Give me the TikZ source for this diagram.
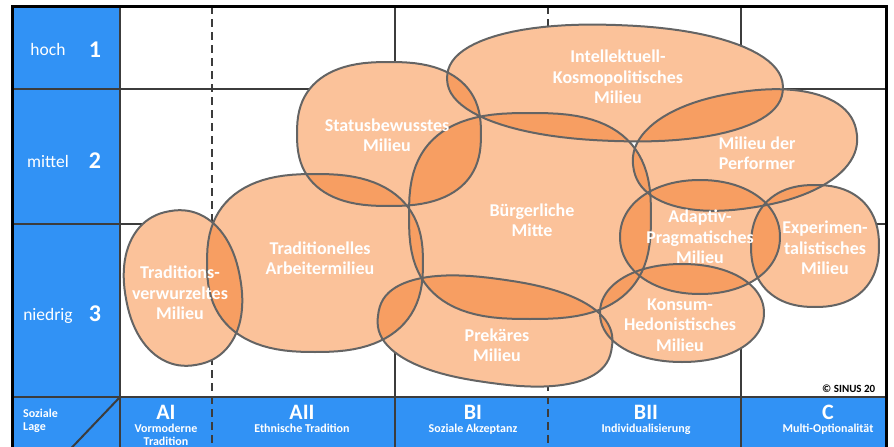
\documentclass[tikz,border=0pt]{standalone}
\usepackage{fontspec}
\setmainfont{Carlito}
\usepackage{tikz}

\definecolor{lageblue}{RGB}{49,146,245}
\definecolor{milieulight}{RGB}{251,194,154}
\definecolor{milieudark}{RGB}{247,158,98}
\definecolor{milieuline}{RGB}{100,100,100}
\definecolor{gridline}{RGB}{60,60,60}

% rounded blob: centre x, centre y, radius x, radius y, squareness, tilt
\newcommand{\milieu}[6]{plot[domain=2:362,samples=91,variable=\t]
  ({#1+#3*cos(\t)*abs(cos(\t))^(2/#5-1)*cos(#6)+#4*sin(\t)*abs(sin(\t))^(2/#5-1)*sin(#6)},
   {#2-#3*cos(\t)*abs(cos(\t))^(2/#5-1)*sin(#6)+#4*sin(\t)*abs(sin(\t))^(2/#5-1)*cos(#6)}) -- cycle}
\newcommand{\overlap}[2]{\begin{scope}\clip #1; \fill[milieudark] #2;\end{scope}}

\newcommand{\shpTV}{\milieu{183}{288}{58}{78}{2.2}{10}}
\newcommand{\shpAM}{\milieu{315}{263}{108}{89}{2.5}{0}}
\newcommand{\shpSB}{\milieu{389}{134}{92}{72}{2.5}{0}}
\newcommand{\shpIK}{\milieu{615}{83}{168}{58}{2.2}{-2}}
\newcommand{\shpBM}{\milieu{530}{216}{121}{103}{2.7}{0}}
\newcommand{\shpPF}{\milieu{745}{150}{113}{58}{2.2}{9}}
\newcommand{\shpAP}{\milieu{700}{237}{80}{57}{2.1}{0}}
\newcommand{\shpEX}{\milieu{815}{246}{64}{61}{2.3}{0}}
\newcommand{\shpKH}{\milieu{682}{313}{82}{49}{2.1}{0}}
\newcommand{\shpPR}{\milieu{495}{331}{118}{52}{2.4}{-8}}

\begin{document}
\begin{tikzpicture}[x=1pt,y=-1pt,
    milieutext/.style={text=white,font=\bfseries\fontsize{18}{20.5}\selectfont,align=center,inner sep=0pt},
    lagetext/.style={text=white,font=\fontsize{17.5}{20}\selectfont,anchor=base,inner sep=0pt},
    lagenum/.style={text=white,font=\bfseries\fontsize{24}{26}\selectfont,anchor=base,inner sep=0pt},
    gruppe/.style={text=white,font=\bfseries\fontsize{22}{24}\selectfont,anchor=base,inner sep=0pt},
    gruppesub/.style={text=white,font=\bfseries\fontsize{12}{13}\selectfont,align=center,anchor=north,inner sep=0pt},
    gitter/.style={draw=gridline,line width=2pt},
    gitterdash/.style={gitter,dash pattern=on 8pt off 5pt}]
             \useasboundingbox (0,0) rectangle (894,447);
             \clip (0,0) rectangle (894,447);

             % blue cells
             \fill[lageblue] (12,6) rectangle (120,397);
             \fill[lageblue] (12,397) rectangle (886,470);

             % grid
             \draw[gitter] (12,89) -- (886,89);
             \draw[gitter] (12,224) -- (886,224);
             \draw[gitter] (12,397) -- (886,397);
             \draw[gitter] (120,6) -- (120,470);
             \draw[gitter] (395,6) -- (395,470);
             \draw[gitter] (741,6) -- (741,470);
             \draw[gitterdash] (212,6) -- (212,470);
             \draw[gitterdash] (548,6) -- (548,470);
             \draw[gitter] (120,397) -- (60,460);

             % milieus
             \fill[milieulight] \shpTV;
             \fill[milieulight] \shpAM;
             \fill[milieulight] \shpSB;
             \fill[milieulight] \shpIK;
             \fill[milieulight] \shpBM;
             \fill[milieulight] \shpPF;
             \fill[milieulight] \shpAP;
             \fill[milieulight] \shpEX;
             \fill[milieulight] \shpKH;
             \fill[milieulight] \shpPR;

             \overlap{\shpTV}{\shpAM}
             \overlap{\shpAM}{\shpSB}
             \overlap{\shpAM}{\shpBM}
             \overlap{\shpAM}{\shpPR}
             \overlap{\shpSB}{\shpIK}
             \overlap{\shpSB}{\shpBM}
             \overlap{\shpIK}{\shpBM}
             \overlap{\shpIK}{\shpPF}
             \overlap{\shpBM}{\shpPF}
             \overlap{\shpBM}{\shpAP}
             \overlap{\shpBM}{\shpPR}
             \overlap{\shpBM}{\shpKH}
             \overlap{\shpPF}{\shpAP}
             \overlap{\shpPF}{\shpEX}
             \overlap{\shpAP}{\shpEX}
             \overlap{\shpAP}{\shpKH}
             \overlap{\shpKH}{\shpPR}
             \overlap{\shpKH}{\shpEX}

             \draw[milieuline,line width=2pt] \shpTV;
             \draw[milieuline,line width=2pt] \shpAM;
             \draw[milieuline,line width=2pt] \shpSB;
             \draw[milieuline,line width=2pt] \shpIK;
             \draw[milieuline,line width=2pt] \shpBM;
             \draw[milieuline,line width=2pt] \shpPF;
             \draw[milieuline,line width=2pt] \shpAP;
             \draw[milieuline,line width=2pt] \shpEX;
             \draw[milieuline,line width=2pt] \shpKH;
             \draw[milieuline,line width=2pt] \shpPR;

             % frame
             \draw[line width=3pt] (12,6) rectangle (886,470);

             \node[milieutext] (tv) at (180,293) {Traditions-\\verwurzeltes\\Milieu};
             \node[milieutext] (am) at (320,258) {Traditionelles\\Arbeitermilieu};
             \node[milieutext] (sb) at (387,135) {Statusbewusstes\\Milieu};
             \node[milieutext] (ik) at (618,77) {Intellektuell-\\Kosmopolitisches\\Milieu};
             \node[milieutext] (bm) at (532,220) {Bürgerliche\\Mitte};
             \node[milieutext] (pf) at (757,153) {Milieu der\\Performer};
             \node[milieutext] (ap) at (700,237) {Adaptiv-\\Pragmatisches\\Milieu};
             \node[milieutext] (ex) at (825,248) {Experimen-\\talistisches\\Milieu};
             \node[milieutext] (kh) at (680,325) {Konsum-\\Hedonistisches\\Milieu};
             \node[milieutext] (pr) at (497,345) {Prekäres\\Milieu};

             \node[lagetext] (hoch) at (48,55) {hoch};
             \node[lagenum] (eins) at (95,57) {1};
             \node[lagetext] (mittel) at (48,167) {mittel};
             \node[lagenum] (zwei) at (95,168) {2};
             \node[lagetext] (niedrig) at (48,320) {niedrig};
             \node[lagenum] (drei) at (95,321) {3};

             \node[gruppesub,anchor=north west,align=left] (lage) at (23,409) {Soziale\\Lage};
             \node[gruppe] (ai) at (166,419) {AI};
             \node[gruppesub] (aisub) at (166,424) {Vormoderne\\Tradition};
             \node[gruppe] (aii) at (302,419) {AII};
             \node[gruppesub] (aiisub) at (302,424) {Ethnische Tradition};
             \node[gruppe] (bi) at (473,419) {BI};
             \node[gruppesub] (bisub) at (473,424) {Soziale Akzeptanz};
             \node[gruppe] (bii) at (646,419) {BII};
             \node[gruppesub] (biisub) at (646,424) {Individualisierung};
             \node[gruppe] (c) at (828,419) {C};
             \node[gruppesub] (csub) at (828,424) {Multi-Optionalität};

             \node[anchor=base west,font=\bfseries\fontsize{11}{12}\selectfont,inner sep=0pt] (sinus) at (822,392) {© SINUS 20};
\end{tikzpicture}
\end{document}
